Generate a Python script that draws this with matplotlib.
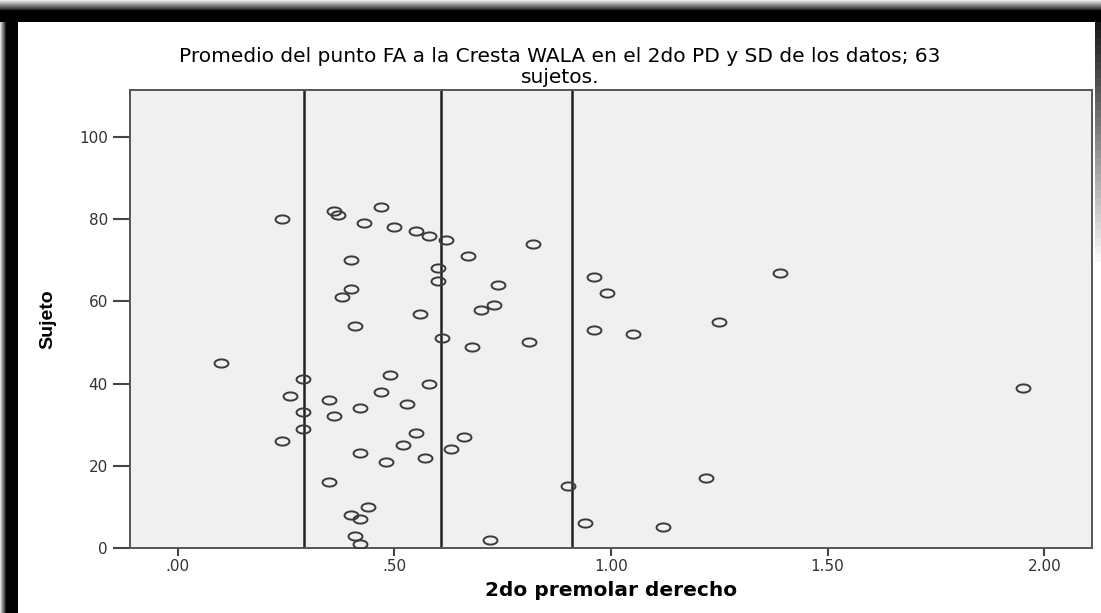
import numpy as np
import matplotlib
matplotlib.use("Agg")
import matplotlib.pyplot as plt
from matplotlib.path import Path
from matplotlib.patches import Rectangle
from matplotlib.ticker import FuncFormatter

# data (subject number vs. value)
subjects = [1, 2, 3, 5, 6, 7, 8, 10, 15, 16, 17, 21, 22, 23, 24, 25, 26, 27,
            28, 29, 32, 33, 34, 35, 36, 37, 38, 39, 40, 41, 42, 45, 49, 50,
            51, 52, 53, 54, 55, 57, 58, 59, 61, 62, 63, 64, 65, 66, 67, 68,
            70, 71, 74, 75, 76, 77, 78, 79, 80, 81, 82, 83]
values = [0.42, 0.72, 0.41, 1.12, 0.94, 0.42, 0.40, 0.44, 0.90, 0.35, 1.22,
          0.48, 0.57, 0.42, 0.63, 0.52, 0.24, 0.66, 0.55, 0.29, 0.36, 0.29,
          0.42, 0.53, 0.35, 0.26, 0.47, 1.95, 0.58, 0.29, 0.49, 0.10, 0.68,
          0.81, 0.61, 1.05, 0.96, 0.41, 1.25, 0.56, 0.70, 0.73, 0.38, 0.99,
          0.40, 0.74, 0.60, 0.96, 1.39, 0.60, 0.40, 0.67, 0.82, 0.62, 0.58,
          0.55, 0.50, 0.43, 0.24, 0.37, 0.36, 0.47]
# mean - SD, mean, mean + SD
ref_lines = [0.291, 0.607, 0.910]
x_ticks = [0.0, 0.5, 1.0, 1.5, 2.0]
y_ticks = [0, 20, 40, 60, 80, 100]

fig = plt.figure(figsize=(11.01, 6.13), dpi=100)
fig.patch.set_facecolor("white")

# black screenshot frame with a soft shadow
W, H = 1101.0, 613.0
def frame(x0, y0, w, h, c, a=1.0):
    fig.patches.append(Rectangle((x0 / W, 1 - (y0 + h) / H), w / W, h / H,
                                 transform=fig.transFigure, color=c,
                                 alpha=a, lw=0, zorder=0))
for i in range(10):
    frame(0, i, W, 1, "black", a=(i + 1) / 12.0)
frame(0, 10, W, 12, "black")
for i in range(6):
    frame(i, 10, 1, H, "black", a=(i + 1) / 7.0)
frame(6, 10, 12, H, "black")
for i in range(30):
    frame(1095, 22 + i * 8, 6, 8, "black", a=max(0.0, 0.9 - i * 0.03))

ax = fig.add_axes([130 / W, 1 - 548 / H, (1092 - 130) / W, (548 - 90) / H])
ax.set_facecolor("#f0f0f0")

t = np.linspace(0, 2 * np.pi, 60)
ellipse = Path(np.column_stack([1.7 * np.cos(t), np.sin(t)]), closed=True)
ax.plot(values, subjects, linestyle="none", marker=ellipse, markersize=10,
        mfc="none", mec="#3a3a3a", mew=1.4, zorder=3)

for v in ref_lines:
    ax.axvline(v, color="#222222", lw=1.8, zorder=2)

ax.set_xlim(-0.11, 2.11)
ax.set_ylim(0, 111.4)
ax.set_xticks(x_ticks)
ax.set_yticks(y_ticks)
ax.xaxis.set_major_formatter(FuncFormatter(lambda v, p: ("%.2f" % v).lstrip("0")
                                           if v < 1 else "%.2f" % v))
ax.tick_params(axis="x", length=6, width=1.5, color="#444444", pad=2,
               labelsize=11, labelcolor="#333333")
ax.tick_params(axis="y", length=12, width=1.5, color="#444444", pad=4,
               labelsize=11, labelcolor="#333333")
for s in ax.spines.values():
    s.set_color("#555555")
    s.set_linewidth(1.4)

ax.set_xlabel("2do premolar derecho", fontsize=14.5, fontweight="bold",
              labelpad=5)
ax.set_ylabel("Sujeto", fontsize=14, fontweight="bold",
              family=["Liberation Sans Narrow", "Liberation Sans", "DejaVu Sans"])
ax.yaxis.set_label_coords(-0.077, 0.5)

fig.text(560 / W, 1 - 62 / H,
         "Promedio del punto FA a la Cresta WALA en el 2do PD y SD de los datos; 63",
         ha="center", va="baseline", fontsize=14.5)
fig.text(560 / W, 1 - 83 / H, "sujetos.",
         ha="center", va="baseline", fontsize=14.5)

fig.savefig("out.png", dpi=100)
